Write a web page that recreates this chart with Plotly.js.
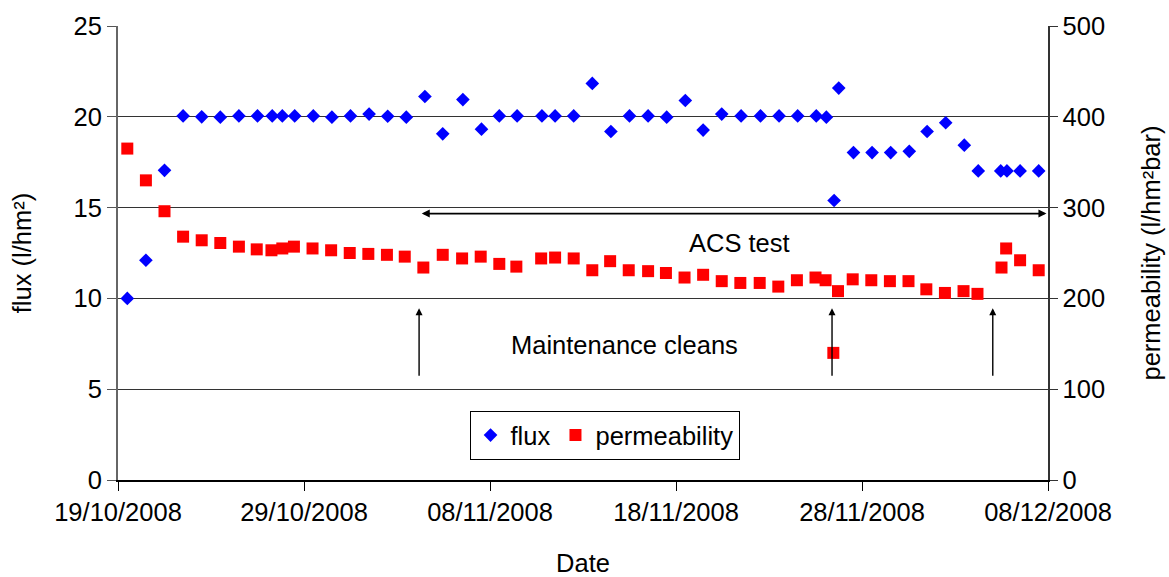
<!DOCTYPE html>
<html>
<head>
<meta charset="utf-8">
<script src="https://cdn.plot.ly/plotly-3.0.1.min.js"></script>
<style>html,body{margin:0;padding:0;background:#fff;}#chart{width:1169px;height:577px;}</style>
</head>
<body>
<div id="chart"></div>
<script>
// Flux measurements (l/hm²), left axis
const fluxDates = [
  '2008-10-19 12:00','2008-10-20 12:00','2008-10-21 12:00','2008-10-22 12:00','2008-10-23 12:00',
  '2008-10-24 12:00','2008-10-25 12:00','2008-10-26 12:00','2008-10-27 07:00','2008-10-27 20:00',
  '2008-10-28 12:00','2008-10-29 12:00','2008-10-30 12:00','2008-10-31 12:00','2008-11-01 12:00',
  '2008-11-02 12:00','2008-11-03 12:00','2008-11-04 12:00','2008-11-05 11:00','2008-11-06 13:00',
  '2008-11-07 13:00','2008-11-08 12:00','2008-11-09 11:00','2008-11-10 19:00','2008-11-11 12:00',
  '2008-11-12 12:00','2008-11-13 12:00','2008-11-14 12:00','2008-11-15 12:00','2008-11-16 12:00',
  '2008-11-17 12:00','2008-11-18 12:00','2008-11-19 11:00','2008-11-20 11:00','2008-11-21 12:00',
  '2008-11-22 13:00','2008-11-23 13:00','2008-11-24 13:00','2008-11-25 13:00','2008-11-26 02:00',
  '2008-11-26 12:00','2008-11-26 18:00','2008-11-27 13:00','2008-11-28 13:00','2008-11-29 13:00',
  '2008-11-30 13:00','2008-12-01 12:00','2008-12-02 12:00','2008-12-03 12:00','2008-12-04 06:00',
  '2008-12-05 11:00','2008-12-05 19:00','2008-12-06 12:00','2008-12-07 12:00'
];
const fluxValues = [
  10.0, 12.1, 17.05, 20.05, 20.0,
  19.98, 20.05, 20.05, 20.05, 20.05,
  20.05, 20.05, 19.98, 20.05, 20.15,
  20.03, 19.98, 21.12, 19.06, 20.95,
  19.32, 20.05, 20.05, 20.05, 20.05,
  20.05, 21.84, 19.19, 20.05, 20.05,
  19.98, 20.9, 19.27, 20.15, 20.05,
  20.05, 20.05, 20.05, 20.05, 19.98,
  15.39, 21.58, 18.03, 18.03, 18.03,
  18.1, 19.19, 19.67, 18.44, 17.02,
  17.02, 17.02, 17.02, 17.02
];

// Permeability measurements (l/hm²bar), right axis
const permDates = [
  '2008-10-19 12:00','2008-10-20 12:00','2008-10-21 12:00','2008-10-22 12:00','2008-10-23 12:00',
  '2008-10-24 12:00','2008-10-25 12:00','2008-10-26 11:00','2008-10-27 06:00','2008-10-27 20:00',
  '2008-10-28 11:00','2008-10-29 11:00','2008-10-30 11:00','2008-10-31 11:00','2008-11-01 11:00',
  '2008-11-02 11:00','2008-11-03 10:00','2008-11-04 10:00','2008-11-05 11:00','2008-11-06 12:00',
  '2008-11-07 12:00','2008-11-08 12:00','2008-11-09 10:00','2008-11-10 18:00','2008-11-11 12:00',
  '2008-11-12 12:00','2008-11-13 12:00','2008-11-14 11:00','2008-11-15 11:00','2008-11-16 12:00',
  '2008-11-17 11:00','2008-11-18 11:00','2008-11-19 11:00','2008-11-20 11:00','2008-11-21 11:00',
  '2008-11-22 12:00','2008-11-23 12:00','2008-11-24 12:00','2008-11-25 12:00','2008-11-26 01:00',
  '2008-11-26 11:00','2008-11-26 17:00','2008-11-27 12:00','2008-11-28 12:00','2008-11-29 12:00',
  '2008-11-30 12:00','2008-12-01 11:00','2008-12-02 11:00','2008-12-03 11:00','2008-12-04 05:00',
  '2008-12-05 12:00','2008-12-05 18:00','2008-12-06 12:00','2008-12-07 12:00'
];
const permValues = [
  365, 330, 296, 268, 264,
  261, 257, 254, 253, 255,
  257, 255, 253, 250, 249,
  248, 246, 234, 248, 244,
  246, 238, 235, 244, 245,
  244, 231, 241, 231, 230,
  228, 223, 226, 219, 217,
  217, 213, 220, 223, 220,
  140, 208, 221, 220, 219,
  219, 210, 206, 208, 205,
  234, 255, 242, 231
];

// Axis ticks
const xTickVals = ['2008-10-19','2008-10-29','2008-11-08','2008-11-18','2008-11-28','2008-12-08'];
const xTickText = ['19/10/2008','29/10/2008','08/11/2008','18/11/2008','28/11/2008','08/12/2008'];
const fluxTicks = [0, 5, 10, 15, 20, 25];
const permTicks = [0, 100, 200, 300, 400, 500];

// Annotation content
const cleanDates = ['2008-11-04 04:30','2008-11-26 09:20','2008-12-05 00:45'];
const acsStart = '2008-11-04 06:00';
const acsEnd = '2008-12-07 22:00';

const FONT = 'Liberation Sans, Arial, Helvetica, sans-serif';
const FS = 25.5;

const traces = [
  {
    x: fluxDates, y: fluxValues, type: 'scatter', mode: 'markers', name: 'flux',
    marker: {symbol: 'diamond', size: 10.5, color: '#0000FF', line: {width: 0}},
    yaxis: 'y'
  },
  {
    x: permDates, y: permValues, type: 'scatter', mode: 'markers', name: 'permeability',
    marker: {symbol: 'square', size: 12, color: '#FF0000', line: {width: 0}},
    yaxis: 'y2'
  }
];

const annotations = [];
cleanDates.forEach(d => {
  annotations.push({
    x: d, y: 9.46, xref: 'x', yref: 'y', text: '', showarrow: true,
    ax: 0, ay: 69, arrowhead: 2, arrowsize: 1, arrowwidth: 1.4, arrowcolor: '#000'
  });
});
annotations.push({
  x: acsEnd, y: 14.67, xref: 'x', yref: 'y', axref: 'x', ayref: 'y',
  ax: acsStart, ay: 14.67, text: '', showarrow: true,
  arrowhead: 2, startarrowhead: 2, arrowside: 'end+start', arrowsize: 1, arrowwidth: 1.6, arrowcolor: '#000'
});
annotations.push({
  x: '2008-11-21 10:30', y: 13.06, xref: 'x', yref: 'y', text: 'ACS test', showarrow: false,
  font: {family: FONT, size: FS, color: '#000'}
});
annotations.push({
  x: '2008-11-15 06:00', y: 7.44, xref: 'x', yref: 'y', text: 'Maintenance cleans', showarrow: false,
  font: {family: FONT, size: FS, color: '#000'}
});

const layout = {
  width: 1169, height: 577,
  margin: {l: 118, r: 121, t: 26, b: 97, pad: 0},
  paper_bgcolor: '#fff', plot_bgcolor: '#fff',
  font: {family: FONT, size: FS, color: '#000'},
  showlegend: true,
  legend: {
    orientation: 'h', x: 0.378, y: 0.152, xanchor: 'left', yanchor: 'top',
    bordercolor: '#000', borderwidth: 1, bgcolor: '#fff',
    font: {family: FONT, size: FS, color: '#000'}, itemwidth: 30, tracegroupgap: 0
  },
  xaxis: {
    type: 'date', range: ['2008-10-19', '2008-12-08'],
    tickmode: 'array', tickvals: xTickVals, ticktext: xTickText,
    ticks: 'outside', ticklen: 9, tickwidth: 1, tickcolor: '#000',
    showline: true, linecolor: '#000', linewidth: 1.5,
    showgrid: false, zeroline: false,
    tickfont: {family: FONT, size: FS, color: '#000'},
    title: {text: 'Date', font: {family: FONT, size: FS, color: '#000'}, standoff: 33}
  },
  yaxis: {
    range: [0, 25], tickmode: 'array', tickvals: fluxTicks,
    ticks: 'outside', ticklen: 9, tickwidth: 1, tickcolor: '#555',
    showline: true, linecolor: '#666', linewidth: 2,
    showgrid: true, gridcolor: '#333', gridwidth: 1, zeroline: false,
    tickfont: {family: FONT, size: FS, color: '#000'},
    title: {text: 'flux (l/hm²)', font: {family: FONT, size: FS, color: '#000'}, standoff: 35}
  },
  yaxis2: {
    range: [0, 500], tickmode: 'array', tickvals: permTicks,
    overlaying: 'y', side: 'right',
    ticks: 'outside', ticklen: 8, tickwidth: 1, tickcolor: '#333',
    showline: true, linecolor: '#333', linewidth: 1.5,
    showgrid: false, zeroline: false,
    tickfont: {family: FONT, size: FS, color: '#000'},
    title: {text: 'permeability (l/hm²bar)', font: {family: FONT, size: FS, color: '#000'}, standoff: 38}
  },
  annotations: annotations
};

Plotly.newPlot('chart', traces, layout, {displayModeBar: false, staticPlot: true});
</script>
</body>
</html>
